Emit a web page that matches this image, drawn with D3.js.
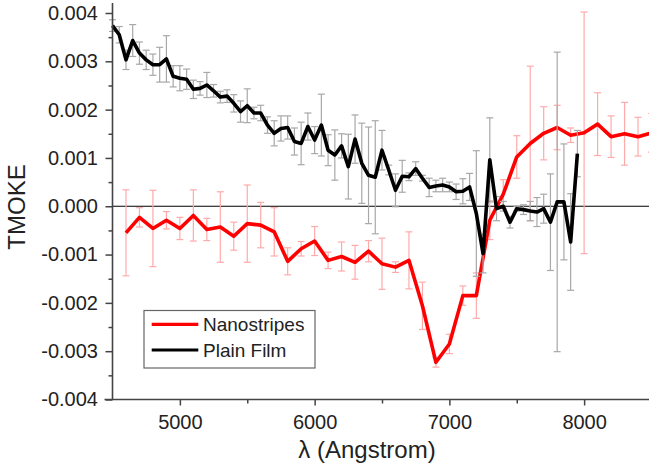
<!DOCTYPE html>
<html>
<head>
<meta charset="utf-8">
<script src="https://cdn.jsdelivr.net/npm/d3@7"></script>
<style>
  body { margin: 0; background: #fff; }
  svg { display: block; font-family: Arial, "Liberation Sans", sans-serif; }
</style>
</head>
<body>
<svg id="chart" width="649" height="468"></svg>
<script>
// Plain film: wavelength (Å), TMOKE signal and its error
const plainFilmWavelength = [4500, 4550, 4600, 4650, 4700, 4750, 4800, 4850, 4900, 4950,
  5000, 5050, 5100, 5150, 5200, 5250, 5300, 5350, 5400, 5450,
  5500, 5550, 5600, 5650, 5700, 5750, 5800, 5850, 5900, 5950,
  6000, 6050, 6100, 6150, 6200, 6250, 6300, 6350, 6400, 6450,
  6500, 6550, 6600, 6650, 6700, 6750, 6800, 6850, 6900, 6950,
  7000, 7050, 7100, 7150, 7200, 7250, 7300, 7350, 7400, 7450,
  7500, 7550, 7600, 7650, 7700, 7750, 7800, 7850, 7900, 7950];
const plainFilmTmoke = [0.00374, 0.00355, 0.00303, 0.00343, 0.00317, 0.00303, 0.00293, 0.00293, 0.00305, 0.00269,
  0.00265, 0.00263, 0.00242, 0.00244, 0.00251, 0.00239, 0.00226, 0.00228, 0.00213, 0.00196,
  0.00208, 0.00193, 0.00193, 0.00168, 0.00151, 0.00161, 0.00163, 0.00134, 0.00130, 0.00165,
  0.00137, 0.00168, 0.00116, 0.00106, 0.00125, 0.00082, 0.00139, 0.00089, 0.00064, 0.00060,
  0.00116, 0.00075, 0.00033, 0.00062, 0.00061, 0.00078, 0.00058, 0.00039, 0.00042, 0.00044,
  0.00040, 0.00030, 0.00031, 0.00040, -0.00015, -0.00098, 0.00096, -0.00005, 0.00000, -0.00033,
  -0.00005, -0.00007, -0.00010, -0.00012, -0.00005, -0.00033, 0.00009, 0.00009, -0.00074, 0.00109];
const plainFilmError = [0.00012, 0.00017, 0.00020, 0.00033, 0.00023, 0.00020, 0.00022, 0.00036, 0.00048, 0.00022,
  0.00026, 0.00021, 0.00019, 0.00014, 0.00026, 0.00013, 0.00012, 0.00013, 0.00018, 0.00022,
  0.00035, 0.00012, 0.00016, 0.00017, 0.00026, 0.00026, 0.00024, 0.00028, 0.00044, 0.00028,
  0.00028, 0.00064, 0.00032, 0.00052, 0.00025, 0.00067, 0.00050, 0.00083, 0.00100, 0.00117,
  0.00041, 0.00010, 0.00034, 0.00033, 0.00008, 0.00014, 0.00006, 0.00019, 0.00012, 0.00014,
  0.00010, 0.00016, 0.00026, 0.00028, 0.00130, 0.00040, 0.00087, 0.00025, 0.00010, 0.00012,
  0.00005, 0.00010, 0.00020, 0.00030, 0.00030, 0.00100, 0.00310, 0.00120, 0.00100, 0.00048];

// Nanostripes: wavelength (Å), TMOKE signal and its error
const nanostripesWavelength = [4600, 4700, 4800, 4900, 5000, 5100, 5200, 5300, 5400, 5500,
  5600, 5700, 5800, 5900, 6000, 6100, 6200, 6300, 6400, 6500,
  6600, 6700, 6800, 6900, 7000, 7100, 7200, 7300, 7400, 7500,
  7600, 7700, 7800, 7900, 8000, 8100, 8200, 8300, 8400, 8500];
const nanostripesTmoke = [-0.00055, -0.00023, -0.00046, -0.00029, -0.00046, -0.00019, -0.00048, -0.00043, -0.00062, -0.00036,
  -0.00039, -0.00053, -0.00114, -0.00088, -0.00072, -0.00112, -0.00104, -0.00116, -0.00093, -0.00119,
  -0.00126, -0.00112, -0.00206, -0.00323, -0.00285, -0.00185, -0.00185, -0.00029, 0.00025, 0.00102,
  0.00130, 0.00151, 0.00163, 0.00147, 0.00152, 0.00170, 0.00144, 0.00150, 0.00144, 0.00152];
const nanostripesError = [0.00089, 0.00020, 0.00079, 0.00018, 0.00023, 0.00053, 0.00023, 0.00073, 0.00029, 0.00080,
  0.00047, 0.00050, 0.00028, 0.00015, 0.00030, 0.00017, 0.00030, 0.00035, 0.00022, 0.00053,
  0.00011, 0.00059, 0.00049, 0.00010, 0.00020, 0.00020, 0.00047, 0.00040, 0.00030, 0.00044,
  0.00160, 0.00055, 0.00046, 0.00015, 0.00250, 0.00065, 0.00043, 0.00065, 0.00040, 0.00040];

const xTicks = [5000, 6000, 7000, 8000];
const xMinorTicks = [5500, 6500, 7500];
const yTicks = [-0.004, -0.003, -0.002, -0.001, 0, 0.001, 0.002, 0.003, 0.004];
const yMinorTicks = [-0.0035, -0.0025, -0.0015, -0.0005, 0.0005, 0.0015, 0.0025, 0.0035];

const seriesNames = ["Nanostripes", "Plain Film"];
const seriesColors = ["#ff0000", "#000000"];
const errorColors = ["#ffaaaa", "#a8a8a8"];

const svg = d3.select("#chart");
const x = d3.scaleLinear().domain([4500, 8500]).range([112.5, 651.5]);
const y = d3.scaleLinear().domain([-0.004, 0.004]).range([399.5, 13]);

const toRows = (xs, vs, es) => xs.map((w, i) => ({ w, v: vs[i], e: es[i] }));
const series = [
  toRows(nanostripesWavelength, nanostripesTmoke, nanostripesError),
  toRows(plainFilmWavelength, plainFilmTmoke, plainFilmError)
];

// zero reference line
svg.append("line")
  .attr("x1", x(4500)).attr("x2", 649)
  .attr("y1", y(0)).attr("y2", y(0))
  .attr("stroke", "#000").attr("stroke-width", 1.2);

const line = d3.line().x(d => x(d.w)).y(d => y(d.v));
const cap = 3.5;

series.forEach((rows, k) => {
  const g = svg.append("g");
  const bars = g.selectAll("g.err").data(rows).join("g")
    .attr("stroke", errorColors[k]).attr("stroke-width", 1.2).attr("fill", "none");
  bars.append("line")
    .attr("x1", d => x(d.w)).attr("x2", d => x(d.w))
    .attr("y1", d => y(d.v - d.e)).attr("y2", d => y(d.v + d.e));
  bars.append("line")
    .attr("x1", d => x(d.w) - cap).attr("x2", d => x(d.w) + cap)
    .attr("y1", d => y(d.v + d.e)).attr("y2", d => y(d.v + d.e));
  bars.append("line")
    .attr("x1", d => x(d.w) - cap).attr("x2", d => x(d.w) + cap)
    .attr("y1", d => y(d.v - d.e)).attr("y2", d => y(d.v - d.e));
  g.append("path")
    .datum(rows)
    .attr("d", line)
    .attr("fill", "none")
    .attr("stroke", seriesColors[k])
    .attr("stroke-width", 3.6)
    .attr("stroke-linejoin", "round");
});

// axes
const axisColor = "#444";
const labelColor = "#222";

const yAxis = svg.append("g").attr("transform", `translate(${x(4500)},0)`)
  .call(d3.axisLeft(y).tickValues(yTicks).tickFormat(d => d.toFixed(3)).tickSize(7).tickPadding(7.5));
const yMinor = svg.append("g").attr("transform", `translate(${x(4500)},0)`)
  .call(d3.axisLeft(y).tickValues(yMinorTicks).tickFormat("").tickSize(4));
const xAxis = svg.append("g").attr("transform", `translate(0,${y(-0.004)})`)
  .call(d3.axisBottom(x).tickValues(xTicks).tickFormat(d3.format("d")).tickSize(6).tickPadding(9));
const xMinor = svg.append("g").attr("transform", `translate(0,${y(-0.004)})`)
  .call(d3.axisBottom(x).tickValues(xMinorTicks).tickFormat("").tickSize(4));

[yAxis, yMinor, xAxis, xMinor].forEach(a => {
  a.selectAll(".domain").remove();
  a.selectAll(".tick line").attr("stroke", axisColor).attr("stroke-width", 1.5);
  a.selectAll(".tick text").attr("font-size", 20).attr("fill", labelColor)
    .attr("font-family", "Arial, 'Liberation Sans', sans-serif");
});

// axis lines
svg.append("line")
  .attr("x1", x(4500)).attr("x2", x(4500))
  .attr("y1", 3).attr("y2", y(-0.004))
  .attr("stroke", axisColor).attr("stroke-width", 1.6);
svg.append("line")
  .attr("x1", x(4500) - 8).attr("x2", 649)
  .attr("y1", y(-0.004)).attr("y2", y(-0.004))
  .attr("stroke", axisColor).attr("stroke-width", 1.6);

// axis titles
svg.append("text")
  .attr("x", 367).attr("y", 458)
  .attr("text-anchor", "middle")
  .attr("font-size", 24).attr("fill", labelColor)
  .text("λ (Angstrom)");
svg.append("text")
  .attr("transform", "translate(25,207) rotate(-90)")
  .attr("text-anchor", "middle")
  .attr("font-size", 24).attr("fill", labelColor)
  .text("TMOKE");

// legend
const legend = svg.append("g");
legend.append("rect")
  .attr("x", 144).attr("y", 310.5).attr("width", 171).attr("height", 57.5)
  .attr("fill", "#fff").attr("stroke", "#666").attr("stroke-width", 1.2);
seriesNames.forEach((name, k) => {
  const ly = 324.3 + k * 25.7;
  legend.append("line")
    .attr("x1", 151.7).attr("x2", 198.3).attr("y1", ly).attr("y2", ly)
    .attr("stroke", seriesColors[k]).attr("stroke-width", 3.2);
  legend.append("text")
    .attr("x", 203).attr("y", ly).attr("dy", "0.35em")
    .attr("font-size", 19).attr("fill", labelColor)
    .text(name);
});
</script>
</body>
</html>
